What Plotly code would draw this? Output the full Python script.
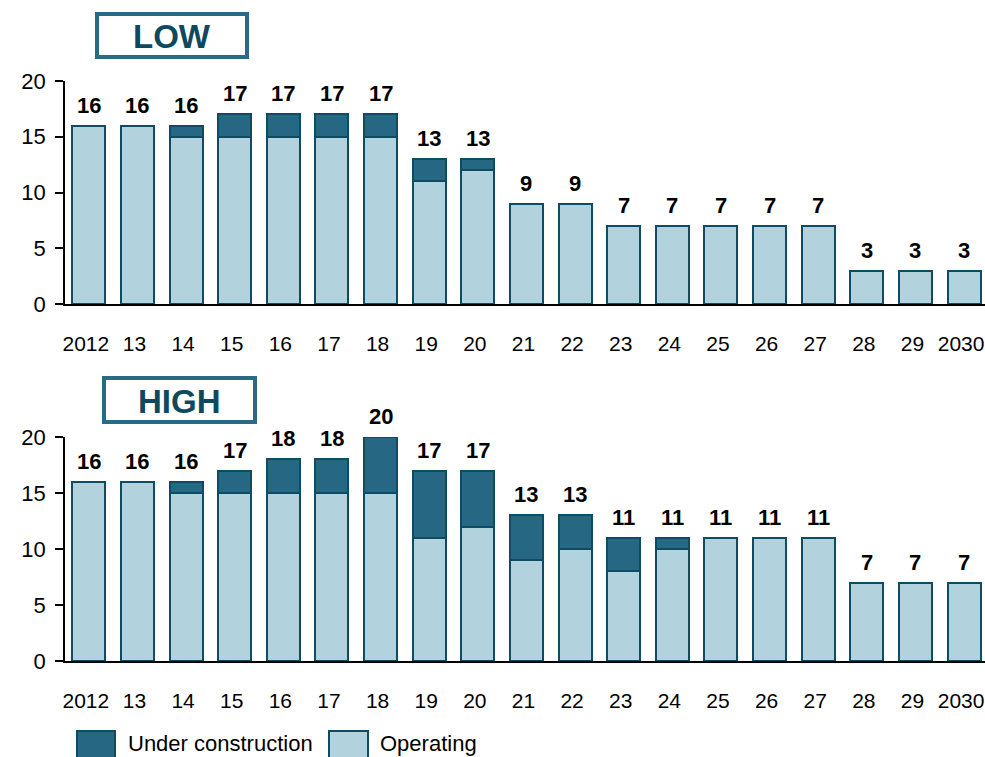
import plotly.graph_objects as go

years = ["2012", "13", "14", "15", "16", "17", "18", "19", "20", "21", "22",
         "23", "24", "25", "26", "27", "28", "29", "2030"]

low_operating = [16, 16, 15, 15, 15, 15, 15, 11, 12, 9, 9, 7, 7, 7, 7, 7, 3, 3, 3]
low_construction = [0, 0, 1, 2, 2, 2, 2, 2, 1, 0, 0, 0, 0, 0, 0, 0, 0, 0, 0]

high_operating = [16, 16, 15, 15, 15, 15, 15, 11, 12, 9, 10, 8, 10, 11, 11, 11, 7, 7, 7]
high_construction = [0, 0, 1, 2, 3, 3, 5, 6, 5, 4, 3, 3, 1, 0, 0, 0, 0, 0, 0]

panel_titles = ["LOW", "HIGH"]
legend_names = ["Under construction", "Operating"]

DARK = "#266883"
LIGHT = "#b2d3de"
EDGE = "#0f4b61"
TITLE_COL = "#0d4a60"
BOX_COL = "#2a6a85"
FONT = "Liberation Sans, Arial, sans-serif"

W, H = 985, 757
ML = 65
idx = list(range(len(years)))

fig = go.Figure()

panels = [(low_operating, low_construction, "x", "y"),
          (high_operating, high_construction, "x2", "y2")]

for op, uc, xa, ya in panels:
    fig.add_trace(go.Bar(x=idx, y=op, xaxis=xa, yaxis=ya, name=legend_names[1],
                         marker=dict(color=LIGHT, line=dict(color=EDGE, width=2)),
                         showlegend=False, hoverinfo="skip"))
    fig.add_trace(go.Bar(x=idx, y=uc, xaxis=xa, yaxis=ya, name=legend_names[0],
                         marker=dict(color=DARK, line=dict(color=EDGE, width=2)),
                         showlegend=False, hoverinfo="skip"))

annotations = []
for op, uc, xa, ya in panels:
    for i, a, b in zip(idx, op, uc):
        tot = a + b
        annotations.append(dict(x=i, y=tot, xref=xa, yref=ya, text=f"<b>{tot}</b>",
                                showarrow=False, yanchor="bottom", yshift=6,
                                font=dict(family=FONT, size=22, color="#000000")))

def px_x(p):
    return (p - ML) / (W - ML)

def px_y(p):
    return 1 - p / H

shapes = []
boxes = [(95, 12, 249, 59), (102, 376, 257, 424)]
for (x0, y0, x1, y1), t in zip(boxes, panel_titles):
    shapes.append(dict(type="rect", xref="paper", yref="paper",
                       x0=px_x(x0 + 2), x1=px_x(x1 - 2), y0=px_y(y1 - 2), y1=px_y(y0 + 2),
                       line=dict(color=BOX_COL, width=4), fillcolor="white"))
    annotations.append(dict(x=px_x((x0 + x1) / 2), y=px_y((y0 + y1) / 2 + 1), xref="paper", yref="paper",
                            text=f"<b>{t}</b>", showarrow=False, xanchor="center", yanchor="middle",
                            font=dict(family=FONT, size=33, color=TITLE_COL)))

leg = [(77, 115, DARK, legend_names[0], 126), (329, 368, LIGHT, legend_names[1], 378)]
for x0, x1, col, name, tx in leg:
    shapes.append(dict(type="rect", xref="paper", yref="paper",
                       x0=px_x(x0), x1=px_x(x1), y0=px_y(760), y1=px_y(731),
                       line=dict(color=EDGE, width=2), fillcolor=col))
    annotations.append(dict(x=px_x(tx), y=px_y(743), xref="paper", yref="paper",
                            text=name, showarrow=False, xanchor="left", yanchor="middle",
                            font=dict(family=FONT, size=22, color="#000000")))

xaxis_common = dict(range=[-0.49, 18.43], tickvals=idx, ticktext=years,
                    showline=True, linecolor="#000000",
                    linewidth=2, ticks="outside", ticklen=20, tickcolor="rgba(0,0,0,0)",
                    tickfont=dict(family=FONT, size=21, color="#000000"),
                    ticklabeloverflow="allow", ticklabelshift=-3,
                    showgrid=False, zeroline=False, fixedrange=True)
yaxis_common = dict(range=[0, 20], tickvals=[0, 5, 10, 15, 20], showline=True, linecolor="#000000",
                    linewidth=1.5, ticks="outside", ticklen=8, tickcolor="#000000", tickwidth=1.5,
                    tickfont=dict(family=FONT, size=22, color="#000000"),
                    ticklabelstandoff=5,
                    showgrid=False, zeroline=False, fixedrange=True)

fig.update_layout(
    width=W, height=H,
    margin=dict(l=ML, r=0, t=0, b=0, pad=0, autoexpand=False),
    paper_bgcolor="white", plot_bgcolor="white",
    barmode="stack", bargap=0.32,
    xaxis=dict(domain=[0, 1], anchor="y", **xaxis_common),
    yaxis=dict(domain=[px_y(304), px_y(81)], anchor="x", **yaxis_common),
    xaxis2=dict(domain=[0, 1], anchor="y2", **xaxis_common),
    yaxis2=dict(domain=[px_y(661), px_y(437)], anchor="x2", **yaxis_common),
    shapes=shapes,
    annotations=annotations,
    showlegend=False,
)

fig.write_html("out.html")
